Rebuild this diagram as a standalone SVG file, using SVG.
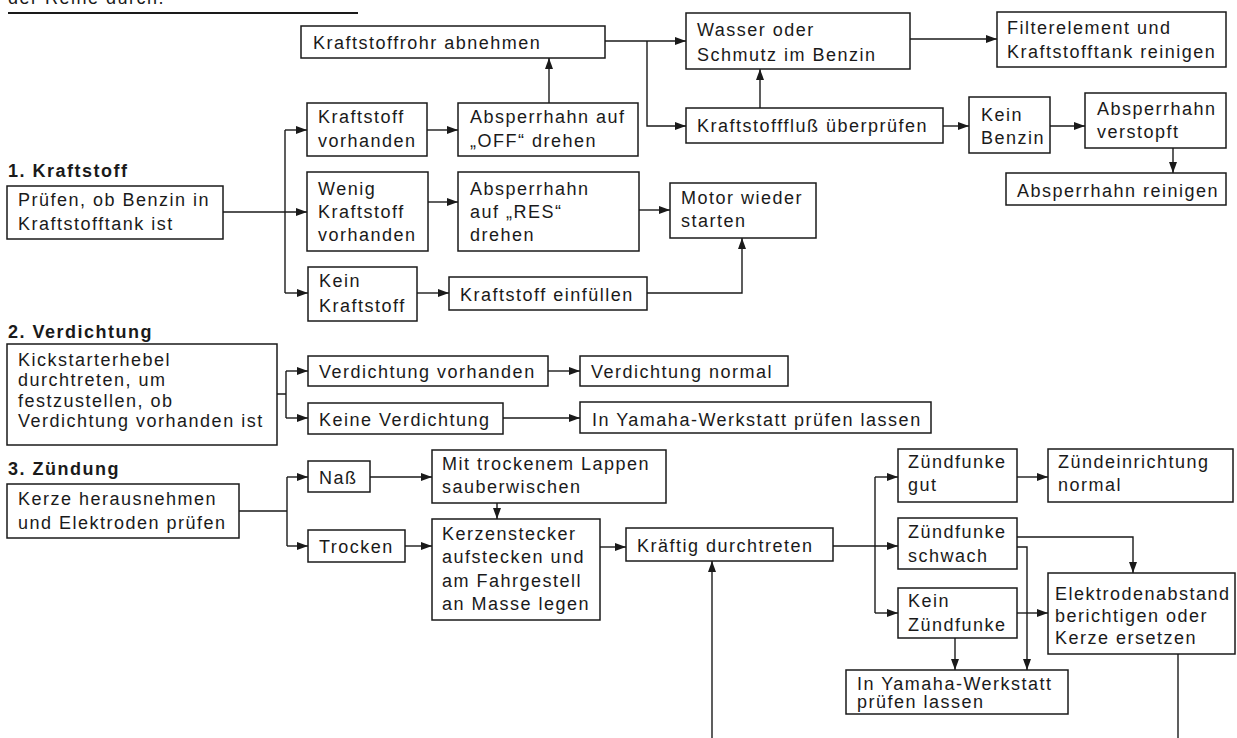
<svg xmlns="http://www.w3.org/2000/svg" width="1237" height="738" viewBox="0 0 1237 738">
<defs>
<style>
.bx{fill:#fff;stroke:#1a1a1a;stroke-width:1.5}
.t{font-family:"Liberation Sans",Arial,sans-serif;font-size:18px;letter-spacing:1.5px;fill:#1a1a1a}
.h{font-family:"Liberation Sans",Arial,sans-serif;font-size:18px;font-weight:bold;letter-spacing:1.5px;fill:#1a1a1a}
.c{fill:none;stroke:#1a1a1a;stroke-width:1.4}
.a{marker-end:url(#ah)}
</style>
<marker id="ah" markerUnits="userSpaceOnUse" markerWidth="11" markerHeight="8" refX="11" refY="4" orient="auto">
<path d="M0,0 L11,4 L0,8 Z" fill="#1a1a1a"/>
</marker>
</defs>
<rect width="1237" height="738" fill="#fff"/>
<text class="t" x="8" y="3.5">der Reihe durch.</text>
<line x1="8" y1="13" x2="358" y2="13" stroke="#1a1a1a" stroke-width="2"/>
<g id="titles">
<text class="h" x="8" y="177">1. Kraftstoff</text>
<text class="h" x="8" y="338">2. Verdichtung</text>
<text class="h" x="8" y="475">3. Zündung</text>
</g>
<g id="connectors">
<path class="c a" d="M223,212 H307"/>
<path class="c" d="M285,130 V293"/>
<path class="c a" d="M285,130 H307"/>
<path class="c a" d="M285,293 H308"/>
<path class="c a" d="M427,130 H458"/>
<path class="c a" d="M428,202 H458"/>
<path class="c a" d="M549,103 V58"/>
<path class="c a" d="M605,41 H686"/>
<path class="c a" d="M647,41 V126 H686"/>
<path class="c a" d="M760,108 V69"/>
<path class="c a" d="M910,39 H997"/>
<path class="c a" d="M943,126 H969"/>
<path class="c a" d="M1050,126 H1085"/>
<path class="c a" d="M1173,148 V173"/>
<path class="c a" d="M639,210 H670"/>
<path class="c a" d="M417,293 H449"/>
<path class="c a" d="M647,293 H742 V238"/>
<path class="c" d="M277,394 H286 M286,371 V418"/>
<path class="c a" d="M286,371 H308"/>
<path class="c a" d="M286,418 H308"/>
<path class="c a" d="M548,371 H580"/>
<path class="c a" d="M503,418 H580"/>
<path class="c" d="M239,511 H287 M287,477 V546"/>
<path class="c a" d="M287,477 H308"/>
<path class="c a" d="M287,546 H308"/>
<path class="c a" d="M370,477 H432"/>
<path class="c a" d="M405,546 H432"/>
<path class="c a" d="M497,503 V519"/>
<path class="c a" d="M600,547 H626"/>
<path class="c a" d="M712,738 V561"/>
<path class="c a" d="M833,546 H898"/>
<path class="c" d="M875,477 V613"/>
<path class="c a" d="M875,477 H898"/>
<path class="c a" d="M875,613 H898"/>
<path class="c a" d="M1017,477 H1048"/>
<path class="c a" d="M1017,537 H1133 V573"/>
<path class="c a" d="M1017,547 H1027 V670"/>
<path class="c a" d="M1017,613 H1048"/>
<path class="c a" d="M955,638 V670"/>
<path class="c" d="M1178,654 V738"/>
</g>
<g id="n_pruefen"><rect class="bx" x="7" y="186" width="216" height="53"/><text class="t" x="18" y="206">Prüfen, ob Benzin in</text><text class="t" x="18" y="230">Kraftstofftank ist</text></g>
<g id="n_rohr"><rect class="bx" x="301" y="26" width="304" height="32"/><text class="t" x="313" y="49">Kraftstoffrohr abnehmen</text></g>
<g id="n_kv"><rect class="bx" x="307" y="103" width="120" height="53"/><text class="t" x="318" y="123">Kraftstoff</text><text class="t" x="318" y="147">vorhanden</text></g>
<g id="n_off"><rect class="bx" x="458" y="103" width="180" height="53"/><text class="t" x="470" y="123">Absperrhahn auf</text><text class="t" x="470" y="147">„OFF“ drehen</text></g>
<g id="n_wenig"><rect class="bx" x="307" y="172" width="121" height="79"/><text class="t" x="318" y="195">Wenig</text><text class="t" x="318" y="218">Kraftstoff</text><text class="t" x="318" y="241">vorhanden</text></g>
<g id="n_res"><rect class="bx" x="458" y="172" width="181" height="79"/><text class="t" x="470" y="195">Absperrhahn</text><text class="t" x="470" y="218">auf „RES“</text><text class="t" x="470" y="241">drehen</text></g>
<g id="n_wasser"><rect class="bx" x="686" y="13" width="224" height="56"/><text class="t" x="697" y="36">Wasser oder</text><text class="t" x="697" y="61">Schmutz im Benzin</text></g>
<g id="n_filter"><rect class="bx" x="997" y="12" width="229" height="55"/><text class="t" x="1007" y="34">Filterelement und</text><text class="t" x="1007" y="58">Kraftstofftank reinigen</text></g>
<g id="n_fluss"><rect class="bx" x="686" y="108" width="257" height="35"/><text class="t" x="697" y="132">Kraftstofffluß überprüfen</text></g>
<g id="n_keinbenzin"><rect class="bx" x="969" y="97" width="81" height="56"/><text class="t" x="981" y="121">Kein</text><text class="t" x="981" y="144">Benzin</text></g>
<g id="n_verstopft"><rect class="bx" x="1085" y="93" width="141" height="55"/><text class="t" x="1097" y="115">Absperrhahn</text><text class="t" x="1097" y="138">verstopft</text></g>
<g id="n_reinigen"><rect class="bx" x="1006" y="173" width="220" height="32"/><text class="t" x="1017" y="197">Absperrhahn reinigen</text></g>
<g id="n_motor"><rect class="bx" x="670" y="183" width="146" height="55"/><text class="t" x="681" y="204">Motor wieder</text><text class="t" x="681" y="227">starten</text></g>
<g id="n_keinkraft"><rect class="bx" x="308" y="267" width="109" height="54"/><text class="t" x="319" y="287">Kein</text><text class="t" x="319" y="312">Kraftstoff</text></g>
<g id="n_einfuellen"><rect class="bx" x="449" y="277" width="198" height="33"/><text class="t" x="460" y="301">Kraftstoff einfüllen</text></g>
<g id="n_kick"><rect class="bx" x="7" y="344" width="270" height="101"/><text class="t" x="18" y="366">Kickstarterhebel</text><text class="t" x="18" y="386">durchtreten, um</text><text class="t" x="18" y="407">festzustellen, ob</text><text class="t" x="18" y="427">Verdichtung vorhanden ist</text></g>
<g id="n_vv"><rect class="bx" x="308" y="356" width="240" height="30"/><text class="t" x="319" y="378">Verdichtung vorhanden</text></g>
<g id="n_vnorm"><rect class="bx" x="580" y="356" width="208" height="30"/><text class="t" x="591" y="378">Verdichtung normal</text></g>
<g id="n_keinev"><rect class="bx" x="308" y="403" width="195" height="31"/><text class="t" x="319" y="426">Keine Verdichtung</text></g>
<g id="n_yamaha1"><rect class="bx" x="580" y="402" width="351" height="31"/><text class="t" x="592" y="426">In Yamaha-Werkstatt prüfen lassen</text></g>
<g id="n_kerze"><rect class="bx" x="7" y="484" width="232" height="54"/><text class="t" x="18" y="505">Kerze herausnehmen</text><text class="t" x="18" y="529">und Elektroden prüfen</text></g>
<g id="n_nass"><rect class="bx" x="308" y="461" width="62" height="31"/><text class="t" x="319" y="484">Naß</text></g>
<g id="n_trocken"><rect class="bx" x="308" y="530" width="97" height="32"/><text class="t" x="319" y="553">Trocken</text></g>
<g id="n_mit"><rect class="bx" x="432" y="450" width="234" height="53"/><text class="t" x="442" y="470">Mit trockenem Lappen</text><text class="t" x="442" y="493">sauberwischen</text></g>
<g id="n_kerzenst"><rect class="bx" x="432" y="519" width="168" height="101"/><text class="t" x="442" y="540">Kerzenstecker</text><text class="t" x="442" y="563">aufstecken und</text><text class="t" x="442" y="587">am Fahrgestell</text><text class="t" x="442" y="610">an Masse legen</text></g>
<g id="n_kraeftig"><rect class="bx" x="626" y="528" width="207" height="33"/><text class="t" x="637" y="552">Kräftig durchtreten</text></g>
<g id="n_zgut"><rect class="bx" x="898" y="449" width="119" height="53"/><text class="t" x="908" y="468">Zündfunke</text><text class="t" x="908" y="491">gut</text></g>
<g id="n_zeinr"><rect class="bx" x="1048" y="449" width="185" height="53"/><text class="t" x="1058" y="468">Zündeinrichtung</text><text class="t" x="1058" y="491">normal</text></g>
<g id="n_zschwach"><rect class="bx" x="898" y="518" width="119" height="51"/><text class="t" x="908" y="538">Zündfunke</text><text class="t" x="908" y="562">schwach</text></g>
<g id="n_keinz"><rect class="bx" x="898" y="588" width="119" height="50"/><text class="t" x="908" y="607">Kein</text><text class="t" x="908" y="631">Zündfunke</text></g>
<g id="n_elektro"><rect class="bx" x="1048" y="573" width="187" height="81"/><text class="t" x="1055" y="600">Elektrodenabstand</text><text class="t" x="1055" y="622">berichtigen oder</text><text class="t" x="1055" y="644">Kerze ersetzen</text></g>
<g id="n_yamaha2"><rect class="bx" x="846" y="670" width="222" height="44"/><text class="t" x="857" y="690">In Yamaha-Werkstatt</text><text class="t" x="857" y="708">prüfen lassen</text></g>
</svg>
